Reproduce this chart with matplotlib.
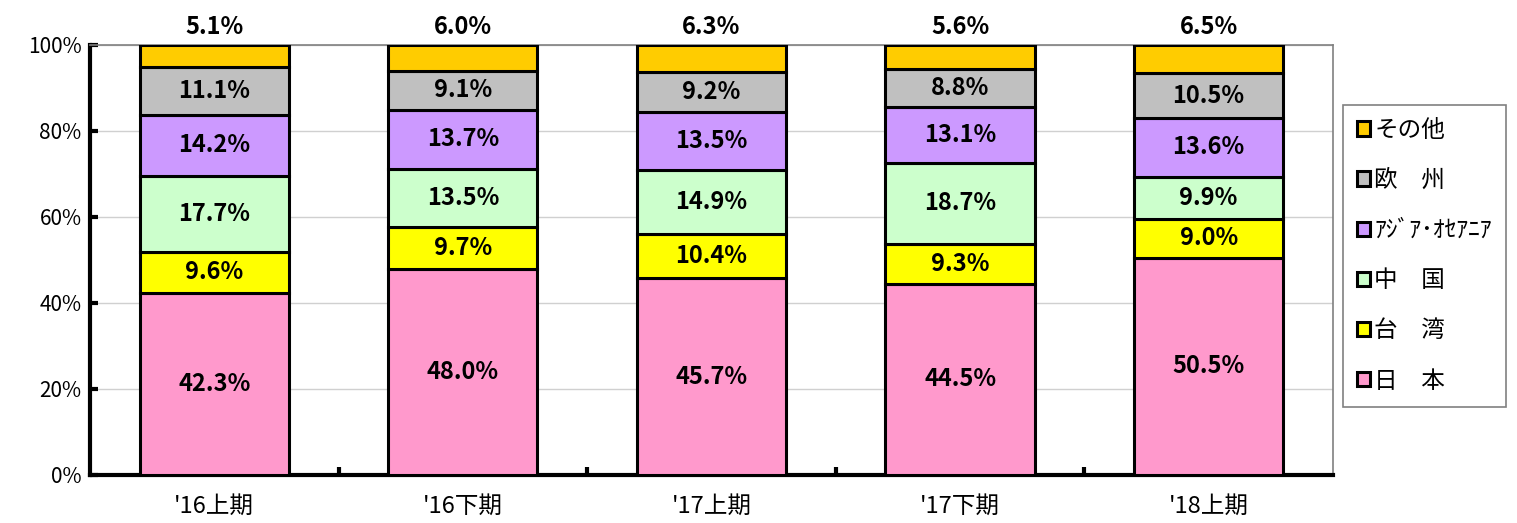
import matplotlib
matplotlib.use("Agg")
import matplotlib.pyplot as plt
from matplotlib.patches import Patch
import numpy as np

plt.rcParams['font.family'] = ['Noto Sans CJK JP', 'DejaVu Sans']

# 期ごとの地域別構成比 (%)
periods = ["'16上期", "'16下期", "'17上期", "'17下期", "'18上期"]
regions = ["日　本", "台　湾", "中　国", "ｱｼﾞｱ･ｵｾｱﾆｱ", "欧　州", "その他"]
japan = [42.3, 48.0, 45.7, 44.5, 50.5]
taiwan = [9.6, 9.7, 10.4, 9.3, 9.0]
china = [17.7, 13.5, 14.9, 18.7, 9.9]
asia_oceania = [14.2, 13.7, 13.5, 13.1, 13.6]
europe = [11.1, 9.1, 9.2, 8.8, 10.5]
others = [5.1, 6.0, 6.3, 5.6, 6.5]

series = [japan, taiwan, china, asia_oceania, europe, others]
colors = ['#FF99CC', '#FFFF00', '#CCFFCC', '#CC99FF', '#C0C0C0', '#FFCC00']

fig = plt.figure(figsize=(15.17, 5.23), dpi=100)
ax = fig.add_axes([0.0593, 0.0918, 0.8194, 0.8222])

x = np.arange(len(periods))
bottom = np.zeros(len(periods))
for i, (vals, col) in enumerate(zip(series, colors)):
    vals = np.array(vals)
    ax.bar(x, vals, 0.6, bottom=bottom, color=col, edgecolor='black',
           linewidth=2.2, zorder=3)
    for xi, b, v in zip(x, bottom, vals):
        if i == len(series) - 1:
            # その他 は棒の上に表示
            ax.annotate(f"{v:.1f}%", (xi, 100), xytext=(0, 4),
                        textcoords='offset points', ha='center', va='bottom',
                        fontsize=17, fontweight='bold', annotation_clip=False)
        else:
            ax.text(xi, b + v / 2, f"{v:.1f}%", ha='center', va='center',
                    fontsize=17, fontweight='bold', zorder=4)
    bottom += vals

ax.set_xlim(-0.5, len(periods) - 0.5)
ax.set_ylim(0, 100)
ax.set_yticks(np.arange(0, 101, 20))
ax.set_yticklabels([f"{v}%" for v in range(0, 101, 20)], fontsize=15)
ax.set_xticks(x)
ax.set_xticklabels(periods, fontsize=17)
ax.set_xticks(np.arange(0.5, len(periods) - 0.5, 1), minor=True)
ax.tick_params(axis='x', which='major', length=0, pad=14)
ax.tick_params(axis='x', which='minor', direction='in', length=6, width=3)
ax.tick_params(axis='y', direction='in', length=6, width=3, pad=6)
ax.grid(axis='y', color='#D0D0D0', linewidth=1, zorder=0)

for s in ['left', 'bottom']:
    ax.spines[s].set_linewidth(3)
    ax.spines[s].set_color('black')
for s in ['top', 'right']:
    ax.spines[s].set_linewidth(1.2)
    ax.spines[s].set_color('#808080')

handles = [Patch(facecolor=c, edgecolor='black', linewidth=2.2) for c in colors]
leg = fig.legend(handles[::-1], regions[::-1], loc='upper left',
                 bbox_to_anchor=(0.885, 0.80), fontsize=17, frameon=True,
                 fancybox=False, handlelength=0.55, handleheight=0.55,
                 handletextpad=0.2, labelspacing=1.15, borderpad=0.6,
                 borderaxespad=0, edgecolor='#606060')
leg.get_frame().set_linewidth(1.2)

fig.savefig("out.png", dpi=100)
